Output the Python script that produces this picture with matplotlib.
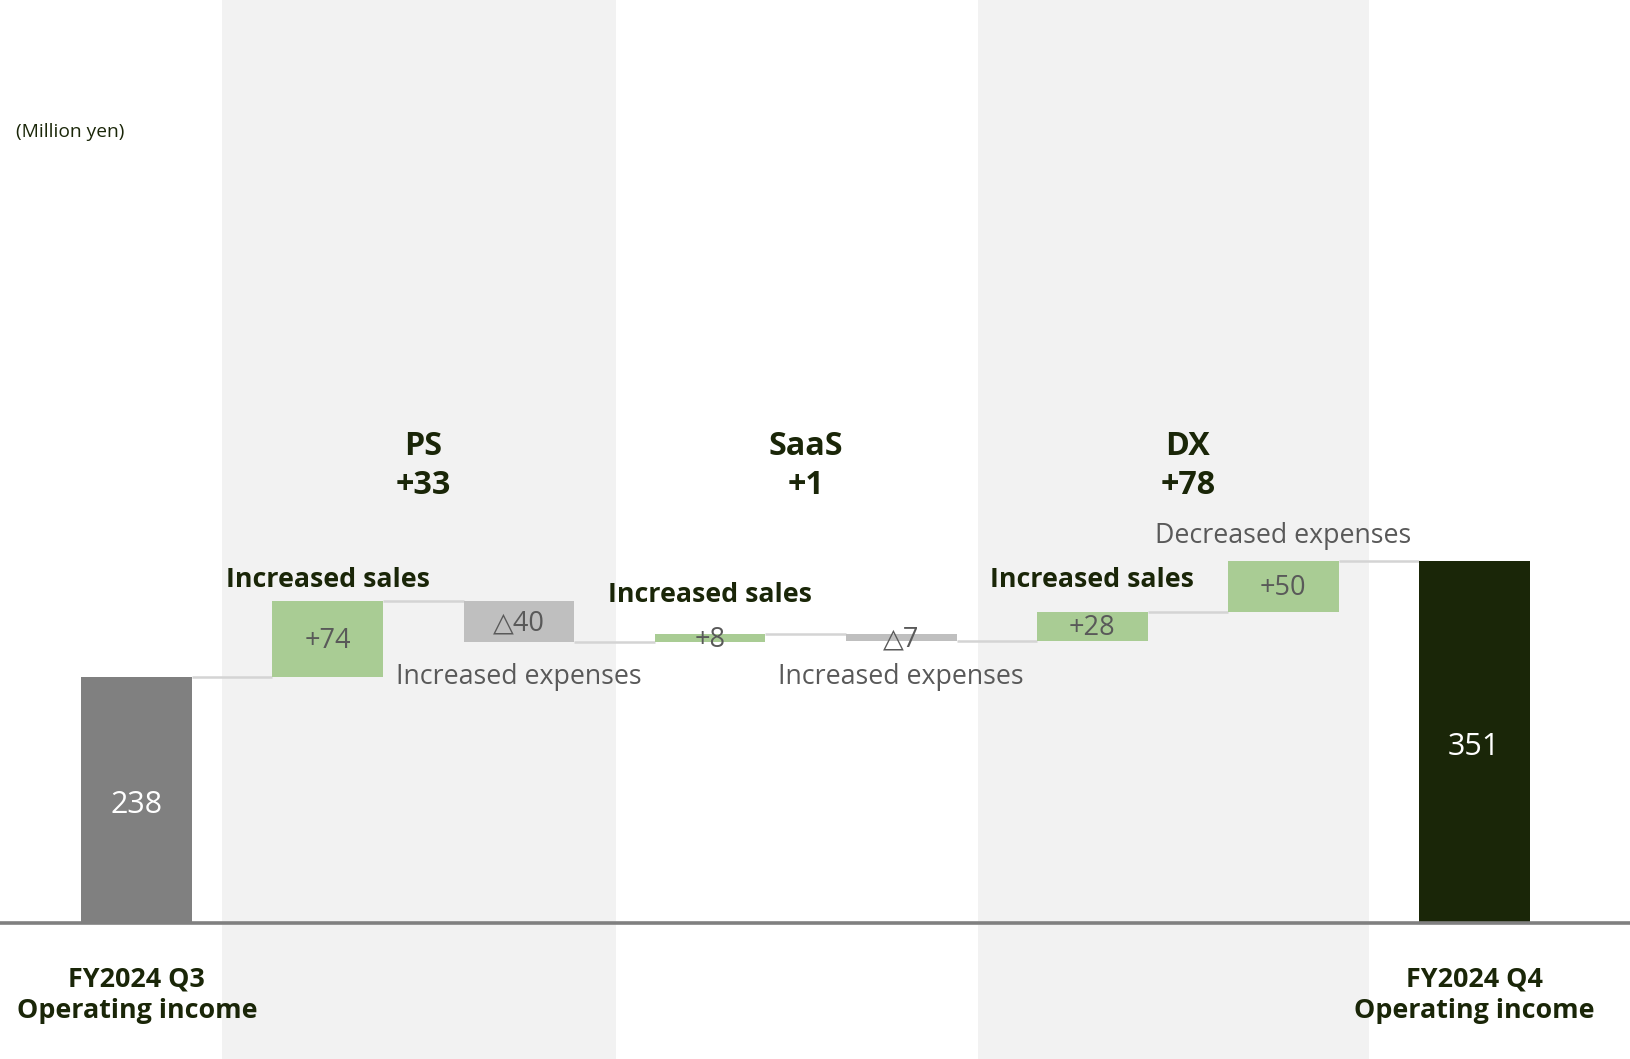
import numpy as np
import matplotlib
matplotlib.use("Agg")
import matplotlib.pyplot as plt

plt.rcParams['font.family'] = ['Open Sans', 'DejaVu Sans']

# data
start_label = "FY2024 Q3\nOperating income"
end_label = "FY2024 Q4\nOperating income"
start_value = 238
end_value = 351
changes = [74, -40, 8, -7, 28, 50]
change_labels = ["+74", "△40", "+8", "△7", "+28", "+50"]
segments = ["PS\n+33", "SaaS\n+1", "DX\n+78"]
notes = ["Increased sales", "Increased expenses", "Increased sales",
         "Increased expenses", "Increased sales", "Decreased expenses"]
unit_label = "(Million yen)"

DARK = "#1a2608"
GREY_TXT = "#595959"
GREEN = "#a9cc94"
NEG = "#bfbfbf"
BAND = "#f2f2f2"

fig = plt.figure(figsize=(16.31, 10.59), dpi=100)
ax = fig.add_axes([0, 0, 1, 1])
ax.set_xlim(-0.716, 7.82)
ax.set_ylim(-132, 894.5)
ax.axis('off')

# shaded segment bands
ax.axvspan(0.448, 2.508, color=BAND, zorder=0, lw=0)
ax.axvspan(4.40, 6.45, color=BAND, zorder=0, lw=0)

w = 0.58
n = len(changes)
xs = np.arange(n + 2)

# running totals
totals = np.concatenate([[start_value], start_value + np.cumsum(changes)])
bottoms = [min(totals[i], totals[i + 1]) for i in range(n)]
heights = [abs(c) for c in changes]
colors = [GREEN if c > 0 else NEG for c in changes]

ax.bar(xs[0], start_value, width=w, color="#808080", zorder=2)
ax.bar(xs[1:n + 1], heights, bottom=bottoms, width=w, color=colors, zorder=2)
ax.bar(xs[-1], end_value, width=w, color=DARK, zorder=2)

# connectors
levels = list(totals) + [end_value]
for i in range(n + 1):
    ax.plot([xs[i] + w / 2, xs[i + 1] - w / 2], [levels[i], levels[i]],
            color="#d4d4d4", lw=1.8, zorder=1, solid_capstyle='butt')

# baseline
ax.axhline(0, color="#808080", lw=2.6, zorder=3)

# value labels
ax.text(xs[0], start_value / 2 - 5, str(start_value), ha='center', va='center',
        color='white', fontsize=22, zorder=4)
ax.text(xs[-1], end_value / 2 - 5, str(end_value), ha='center', va='center',
        color='white', fontsize=22, zorder=4)
for i, lab in enumerate(change_labels):
    ax.text(xs[i + 1], bottoms[i] + heights[i] / 2 - 1.5, lab, ha='center', va='center',
            color=GREY_TXT, fontsize=19.5, zorder=4)

# notes: sales above, expenses below (decrease sits above its bar)
sales_y = {0: 332, 2: 318, 4: 332}
for i, note in enumerate(notes):
    if note == "Increased sales":
        ax.text(xs[i + 1], sales_y[i], note, ha='center', va='center', color=DARK,
                fontsize=19.3, fontweight='bold', zorder=4)
    elif note == "Increased expenses":
        ax.text(xs[i + 1], 238, note, ha='center', va='center', color=GREY_TXT,
                fontsize=19.3, zorder=4)
    else:
        ax.text(xs[i + 1], totals[i + 1] + 24, note, ha='center', va='center',
                color=GREY_TXT, fontsize=19.3, zorder=4)

# segment titles
for k, seg in enumerate(segments):
    ax.text(1.5 + 2 * k, 443, seg, ha='center', va='center', color=DARK,
            fontsize=23.2, fontweight='bold', linespacing=1.22, zorder=4)

# category labels
ax.text(xs[0], -70, start_label, ha='center', va='center', color=DARK,
        fontsize=19.4, fontweight='bold', linespacing=1.3)
ax.text(xs[-1], -70, end_label, ha='center', va='center', color=DARK,
        fontsize=19.4, fontweight='bold', linespacing=1.3)

ax.text(-0.634, 767, unit_label, ha='left', va='center', color=DARK, fontsize=13.8)

fig.savefig("out.png", dpi=100)
